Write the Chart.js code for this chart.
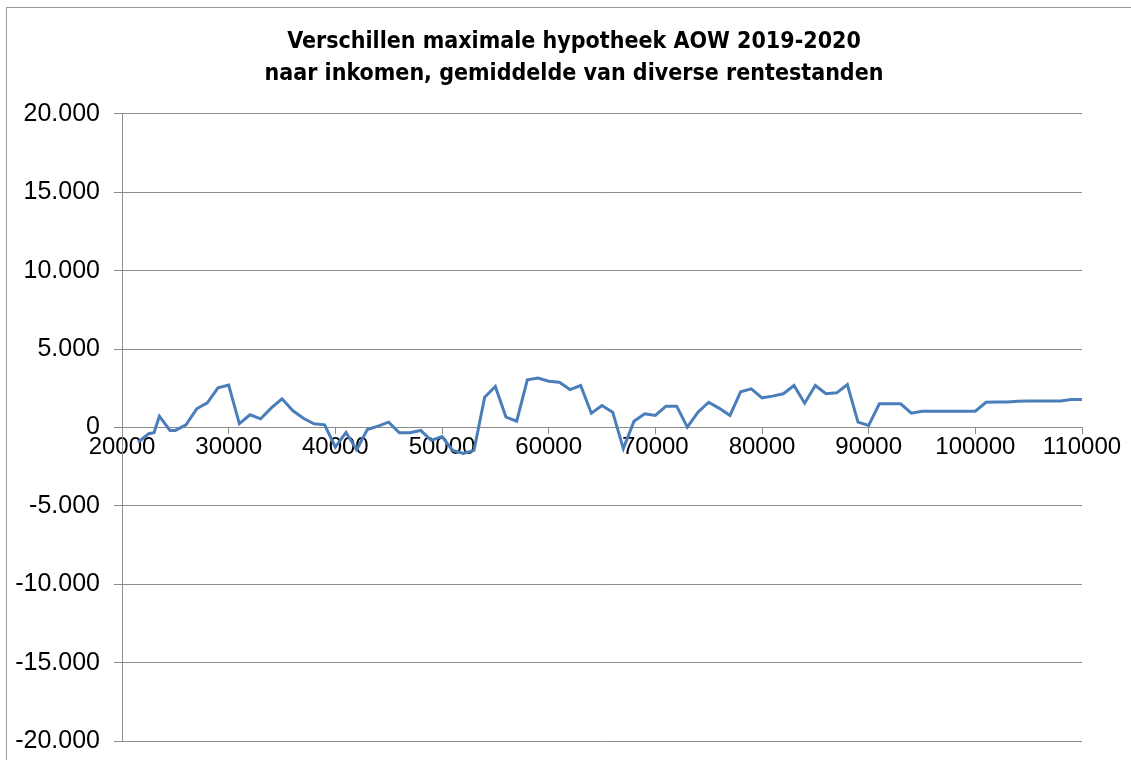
<!DOCTYPE html>
<html>
<head>
<meta charset="utf-8">
<title>Verschillen maximale hypotheek AOW 2019-2020</title>
<script src="https://cdn.jsdelivr.net/npm/chart.js@4/dist/chart.umd.min.js"></script>
<style>
  html, body { margin: 0; padding: 0; background: #fff; }
  #wrap { position: relative; width: 1131px; height: 760px; overflow: hidden; }
  #frame { position: absolute; left: 6px; top: 7px; right: -2px; bottom: -2px;
           border-top: 1px solid #9a9a9a; border-left: 1px solid #9a9a9a; }
  #chart { position: absolute; left: 0; top: 0; }
</style>
</head>
<body>
<div id="wrap">
  <div id="frame"></div>
  <canvas id="chart" width="1131" height="760"></canvas>
</div>
<script>
// Income (x) and average difference in max. mortgage (y)
const incomes = [
  21500, 22500, 23000, 23500, 24500, 25000, 26000, 27000, 28000, 29000,
  30000, 31000, 32000, 33000, 34000, 35000, 36000, 37000, 38000, 39000,
  40000, 41000, 42000, 43000, 44000, 45000, 46000, 47000, 48000, 49000,
  50000, 51000, 52000, 53000, 54000, 55000, 56000, 57000, 58000, 59000,
  60000, 61000, 62000, 63000, 64000, 65000, 66000, 67000, 68000, 69000,
  70000, 71000, 72000, 73000, 74000, 75000, 76000, 77000, 78000, 79000,
  80000, 81000, 82000, 83000, 84000, 85000, 86000, 87000, 88000, 89000,
  90000, 91000, 92000, 93000, 94000, 95000, 96000, 97000, 98000, 99000,
  100000, 101000, 102000, 103000, 104000, 105000, 106000, 107000, 108000, 109000,
  110000
];
const differences = [
  -940, -400, -340, 720, -190, -190, 170, 1190, 1570, 2530,
  2700, 250, 810, 550, 1250, 1830, 1080, 590, 235, 170,
  -1250, -320, -1420, -130, 85, 340, -340, -340, -190, -820,
  -580, -1460, -1650, -1460, 1930, 2610, 660, 400, 3040, 3150,
  2950, 2890, 2420, 2675, 910, 1400, 975, -1350, 400, 870,
  765, 1360, 1360, 20, 975, 1610, 1220, 765, 2280, 2460,
  1890, 2000, 2150, 2675, 1550, 2675, 2150, 2210, 2740, 340,
  130, 1510, 1510, 1510, 910, 1040, 1040, 1040, 1040, 1040,
  1040, 1610, 1620, 1630, 1675, 1690, 1690, 1690, 1690, 1780,
  1780
];
const titleLines = [
  'Verschillen maximale hypotheek AOW 2019-2020',
  'naar inkomen, gemiddelde van diverse rentestanden'
];
const xTicks = [20000, 30000, 40000, 50000, 60000, 70000, 80000, 90000, 100000, 110000];
const yTicks = [-20000, -15000, -10000, -5000, 0, 5000, 10000, 15000, 20000];

// Dutch thousand separator: 20000 -> 20.000
function nlFormat(v) {
  const s = String(Math.abs(v)).replace(/\B(?=(\d{3})+(?!\d))/g, '.');
  return v < 0 ? '-' + s : s;
}

const gridGray = '#8c8c8c';
const labelFamily = '"Liberation Sans", Arial, sans-serif';

const points = incomes.map((x, i) => ({ x: x, y: differences[i] }));

// the title in the original is centred on the whole frame, not on the plot
const titleShift = {
  id: 'titleShift',
  afterLayout(chart) {
    const t = chart.titleBlock;
    if (t) { t.left += 33; t.right += 33; }
  }
};

new Chart(document.getElementById('chart'), {
  type: 'line',
  data: {
    datasets: [{
      data: points,
      borderColor: '#4a7ebb',
      borderWidth: 3,
      pointRadius: 0,
      tension: 0,
      fill: false
    }]
  },
  options: {
    responsive: false,
    animation: false,
    layout: { padding: { left: 0, right: 49, top: 0, bottom: 19 } },
    plugins: {
      legend: { display: false },
      tooltip: { enabled: false },
      title: {
        display: true,
        text: titleLines,
        color: '#000',
        font: { family: '"Liberation Sans Narrow", "DejaVu Sans Condensed", sans-serif', size: 23, weight: 'bold', lineHeight: 1.39 },
        padding: { top: 26, bottom: 24 }
      }
    },
    scales: {
      x: {
        type: 'linear',
        // y range is symmetric, so the centre of the plot is y = 0
        position: 'center',
        min: 20000,
        max: 110000,
        afterBuildTicks: s => { s.ticks = xTicks.map(v => ({ value: v })); },
        grid: { drawOnChartArea: false, drawTicks: true, tickLength: 6, color: gridGray },
        border: { color: gridGray, width: 1 },
        ticks: { color: '#000', font: { family: labelFamily, size: 24 }, padding: 0,
                 maxRotation: 0, autoSkip: false, callback: v => String(v) }
      },
      y: {
        min: -20000,
        max: 20000,
        afterBuildTicks: s => { s.ticks = yTicks.map(v => ({ value: v })); },
        afterFit: s => { s.width = 122; s.paddingTop = 0; s.paddingBottom = 0; },
        grid: { color: gridGray, tickLength: 8 },
        border: { color: gridGray, width: 1 },
        ticks: { color: '#000', font: { family: labelFamily, size: 25 }, padding: 14,
                 callback: v => nlFormat(v) }
      }
    }
  },
  plugins: [titleShift]
});
</script>
</body>
</html>
